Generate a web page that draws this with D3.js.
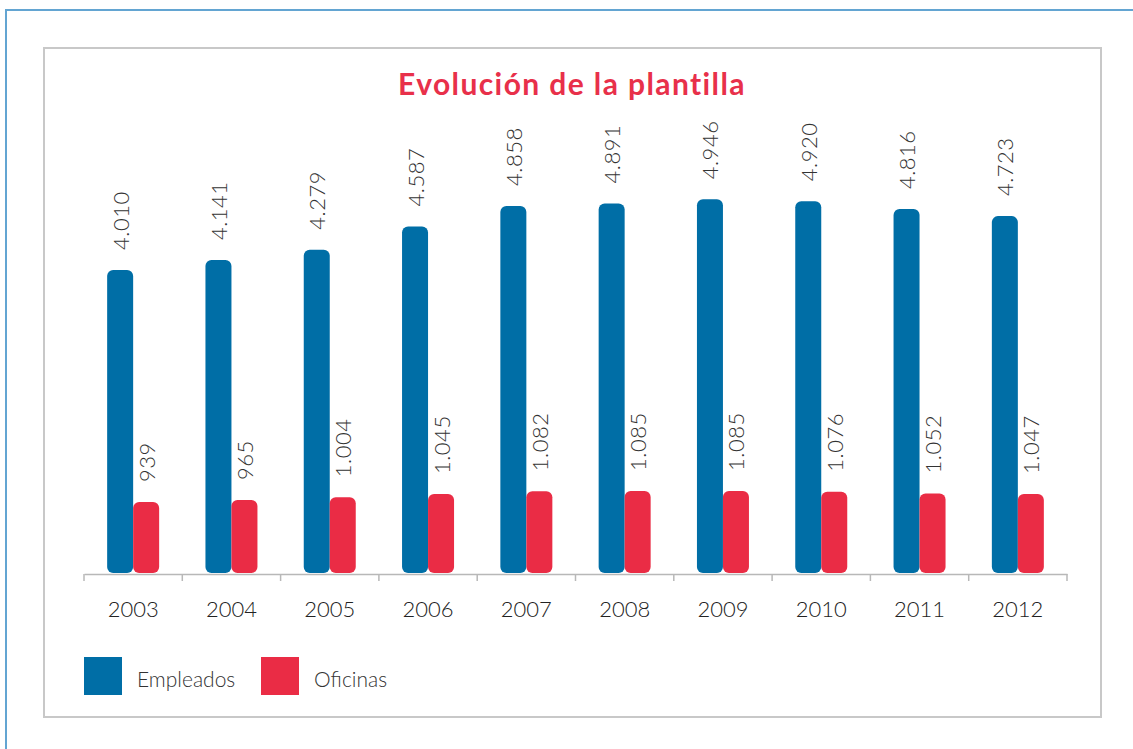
<!DOCTYPE html>
<html>
<head>
<meta charset="utf-8">
<script src="https://cdn.jsdelivr.net/npm/d3@7"></script>
<style>
  body { margin: 0; background: #fff; }
  svg { display: block; font-family: Lato, "Open Sans", sans-serif; }
</style>
</head>
<body>
<div id="chart"></div>
<script>
// data
var years = ["2003", "2004", "2005", "2006", "2007", "2008", "2009", "2010", "2011", "2012"];
var empleados = [4010, 4141, 4279, 4587, 4858, 4891, 4946, 4920, 4816, 4723];
var oficinas = [939, 965, 1004, 1045, 1082, 1085, 1085, 1076, 1052, 1047];
var series = ["Empleados", "Oficinas"];
var colors = ["#006ea6", "#ea2c45"];

var W = 1133, H = 749;

var svg = d3.select("#chart")
  .append("svg")
  .attr("width", W)
  .attr("height", H);

// outer blue frame
svg.append("path")
  .attr("d", "M6," + H + "V10H" + W)
  .attr("fill", "none")
  .attr("stroke", "#63a5d2")
  .attr("stroke-width", 2);

// inner grey frame
svg.append("rect")
  .attr("x", 44).attr("y", 48)
  .attr("width", 1057).attr("height", 669)
  .attr("fill", "#fff")
  .attr("stroke", "#c8c8c8")
  .attr("stroke-width", 2);

// title
svg.append("text")
  .attr("x", 572).attr("y", 95)
  .attr("text-anchor", "middle")
  .attr("fill", "#e8304a")
  .style("font-size", "30px")
  .style("font-weight", "bold")
  .style("letter-spacing", "1.4px")
  .text("Evolución de la plantilla");

// scales
var x = d3.scaleBand()
  .domain(years)
  .range([84, 1067]);

var y = d3.scaleLinear()
  .domain([0, 4010])
  .range([573, 270]);

var barW = 26;
var sub = d3.scaleBand().domain(series).range([x.bandwidth() / 2 - barW, x.bandwidth() / 2 + barW]);

// axis
var xAxis = svg.append("g")
  .attr("transform", "translate(0,574)")
  .call(d3.axisBottom(x).tickSize(0).tickPadding(27));
xAxis.select(".domain").attr("stroke", "#b8b8b8").attr("stroke-width", 1.5);
xAxis.selectAll("text")
  .attr("fill", "#222")
  .style("font-size", "22px")
  .style("font-weight", 300)
  .style("font-family", "Lato, sans-serif");

// tick marks at band edges
var edges = years.map(function (d) { return x(d); }).concat([x.range()[1]]);
svg.append("g").selectAll("line")
  .data(edges)
  .enter().append("line")
  .attr("x1", function (d) { return d; })
  .attr("x2", function (d) { return d; })
  .attr("y1", 574).attr("y2", 581)
  .attr("stroke", "#b8b8b8")
  .attr("stroke-width", 1.5);

// bars
var rows = years.map(function (yr, i) {
  return { year: yr, vals: [empleados[i], oficinas[i]] };
});

var groups = svg.append("g").selectAll("g")
  .data(rows)
  .enter().append("g")
  .attr("transform", function (d) { return "translate(" + x(d.year) + ",0)"; });

groups.selectAll("rect")
  .data(function (d) { return d.vals.map(function (v, j) { return { s: series[j], v: v, c: colors[j] }; }); })
  .enter().append("rect")
  .attr("x", function (d) { return sub(d.s); })
  .attr("width", barW)
  .attr("y", function (d) { return y(d.v); })
  .attr("height", function (d) { return y(0) - y(d.v); })
  .attr("rx", 6)
  .attr("fill", function (d) { return d.c; });

var fmt = function (v) { return d3.format(",")(v).replace(",", "."); };

groups.selectAll("text.val")
  .data(function (d) { return d.vals.map(function (v, j) { return { s: series[j], v: v }; }); })
  .enter().append("text")
  .attr("class", "val")
  .attr("transform", function (d) {
    return "translate(" + (sub(d.s) + barW / 2 + 8.5) + "," + (y(d.v) - 20) + ") rotate(-90)";
  })
  .attr("fill", "#333")
  .style("font-size", "22px")
  .style("font-weight", 300)
  .style("letter-spacing", "0.5px")
  .text(function (d) { return fmt(d.v); });

// legend
var legend = svg.append("g").selectAll("g")
  .data(series)
  .enter().append("g")
  .attr("transform", function (d, i) { return "translate(" + (84 + i * 177) + ",657)"; });

legend.append("rect")
  .attr("width", 38).attr("height", 38)
  .attr("fill", function (d, i) { return colors[i]; });

legend.append("text")
  .attr("x", 53).attr("y", 30)
  .attr("fill", "#333")
  .style("font-size", "21px")
  .style("font-weight", 300)
  .text(function (d) { return d; });
</script>
</body>
</html>
